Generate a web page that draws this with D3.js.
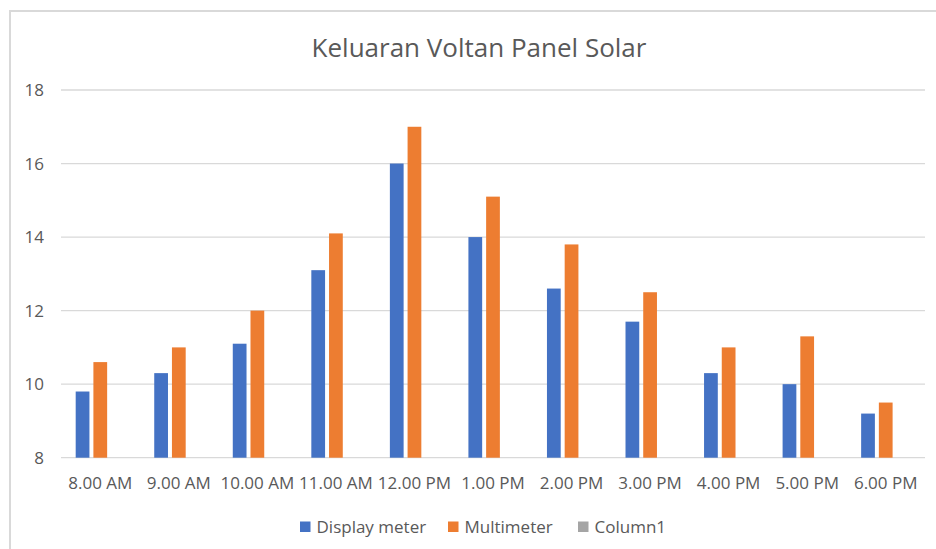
<!DOCTYPE html>
<html>
<head>
<meta charset="utf-8">
<script src="https://cdn.jsdelivr.net/npm/d3@7"></script>
<style>
  body { margin: 0; background: #fff; }
  text { font-family: "Open Sans", "Noto Sans", sans-serif; fill: #595959; }
</style>
</head>
<body>
<svg id="chart" width="936" height="549"></svg>
<script>
// data
const times = ['8.00 AM','9.00 AM','10.00 AM','11.00 AM','12.00 PM','1.00 PM','2.00 PM','3.00 PM','4.00 PM','5.00 PM','6.00 PM'];
const displayMeter = [9.8, 10.3, 11.1, 13.1, 16, 14, 12.6, 11.7, 10.3, 10, 9.2];
const multimeter = [10.6, 11, 12, 14.1, 17, 15.1, 13.8, 12.5, 11, 11.3, 9.5];
const column1 = [null, null, null, null, null, null, null, null, null, null, null];
const yTicks = [8, 10, 12, 14, 16, 18];

const seriesNames = ['Display meter', 'Multimeter', 'Column1'];
const seriesColors = ['#4472c4', '#ed7d31', '#a5a5a5'];
const seriesValues = [displayMeter, multimeter, column1];

const svg = d3.select('#chart');

// chart border (left + top only visible)
svg.append('path')
    .attr('d', 'M10,549 V11 H936')
    .attr('fill', 'none')
    .attr('stroke', '#d9d9d9')
    .attr('stroke-width', 2);

svg.append('text')
    .attr('x', 479).attr('y', 57)
    .attr('text-anchor', 'middle')
    .style('font-size', '26px')
    .text('Keluaran Voltan Panel Solar');

const x = d3.scaleBand()
    .domain(times)
    .range([61, 925]);

const y = d3.scaleLinear()
    .domain([8, 18])
    .range([457.7, 90]);

// gridlines
svg.append('g')
    .selectAll('line')
    .data(yTicks)
    .enter().append('line')
    .attr('x1', 61).attr('x2', 925)
    .attr('y1', d => y(d)).attr('y2', d => y(d))
    .attr('stroke', '#d9d9d9')
    .attr('stroke-width', 1.3);

// y labels
svg.append('g')
    .selectAll('text')
    .data(yTicks)
    .enter().append('text')
    .attr('x', 44)
    .attr('y', d => y(d) + 6)
    .attr('text-anchor', 'end')
    .style('font-size', '17px')
    .text(d => d);

// x labels
svg.append('g')
    .selectAll('text')
    .data(times)
    .enter().append('text')
    .attr('x', d => x(d) + x.bandwidth() / 2)
    .attr('y', 489)
    .attr('text-anchor', 'middle')
    .style('font-size', '17px')
    .text(d => d);

// bars
const step = x.bandwidth() * 0.2255;
const barW = x.bandwidth() * 0.175;

seriesValues.forEach((vals, si) => {
    svg.append('g')
        .selectAll('rect')
        .data(vals.map((v, i) => ({ t: times[i], v: v })).filter(d => d.v != null))
        .enter().append('rect')
        .attr('x', d => x(d.t) + x.bandwidth() / 2 + (si - 1) * step - barW / 2)
        .attr('y', d => y(d.v))
        .attr('width', barW)
        .attr('height', d => y(8) - y(d.v))
        .attr('fill', seriesColors[si]);
});

// legend
const legendX = [300, 448, 578];
const legend = svg.append('g')
    .selectAll('g')
    .data(seriesNames)
    .enter().append('g')
    .attr('transform', (d, i) => `translate(${legendX[i]},521.5)`);

legend.append('rect')
    .attr('width', 10.5).attr('height', 10.5)
    .attr('fill', (d, i) => seriesColors[i]);

legend.append('text')
    .attr('x', 16.5).attr('y', 11)
    .style('font-size', '17px')
    .text(d => d);
</script>
</body>
</html>
